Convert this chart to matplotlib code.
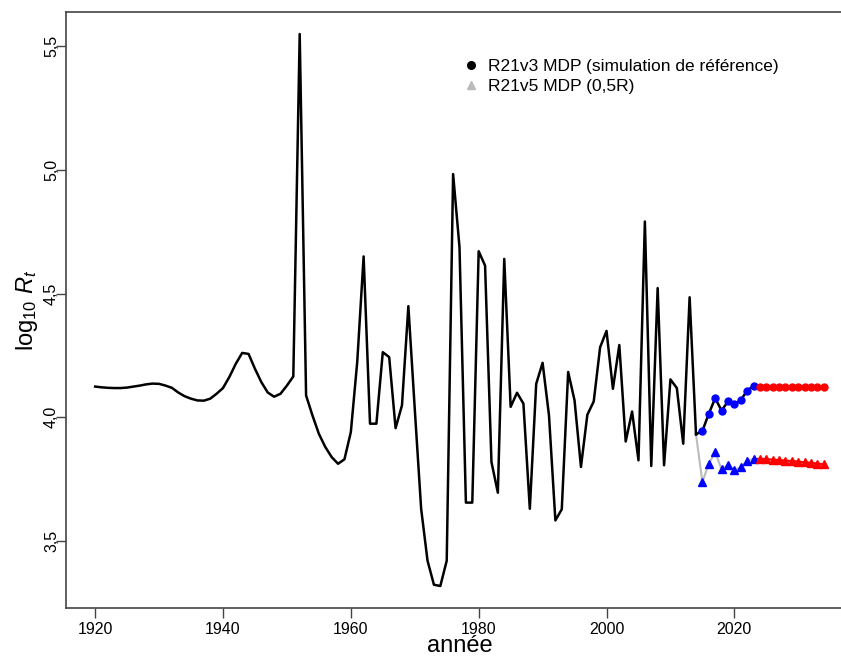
import numpy as np
import matplotlib
matplotlib.use('Agg')
import matplotlib.pyplot as plt

plt.rcParams['font.family'] = ['Liberation Sans', 'DejaVu Sans']
plt.rcParams['mathtext.fontset'] = 'custom'
plt.rcParams['mathtext.rm'] = 'Liberation Sans'
plt.rcParams['mathtext.it'] = 'Liberation Sans:italic'

# historique 1920-2014
annees_hist = np.arange(1920, 2015)
log_r_hist = [
    4.124, 4.121, 4.119, 4.118, 4.118, 4.120, 4.124, 4.128, 4.133, 4.136,
    4.135, 4.128, 4.119, 4.100, 4.085, 4.075, 4.068, 4.067, 4.075, 4.095,
    4.118, 4.163, 4.216, 4.260, 4.256, 4.196, 4.142, 4.100, 4.083, 4.095,
    4.128, 4.165, 5.549, 4.088, 4.007, 3.933, 3.880, 3.839, 3.812, 3.830,
    3.940, 4.223, 4.650, 3.974, 3.974, 4.263, 4.243, 3.956, 4.048, 4.449,
    4.034, 3.630, 3.420, 3.323, 3.318, 3.420, 4.983, 4.687, 3.655, 3.655,
    4.671, 4.613, 3.819, 3.695, 4.640, 4.042, 4.099, 4.055, 3.630, 4.135,
    4.220, 4.007, 3.583, 3.628, 4.183, 4.068, 3.799, 4.010, 4.064, 4.283,
    4.349, 4.115, 4.292, 3.902, 4.023, 3.826, 4.791, 3.803, 4.522, 3.806,
    4.153, 4.118, 3.893, 4.485, 3.931,
]

# projections
annees_bleu = np.arange(2015, 2024)
annees_rouge = np.arange(2024, 2035)
ref_bleu = [3.945, 4.014, 4.077, 4.027, 4.064, 4.052, 4.069, 4.108, 4.126]
ref_rouge = [4.123, 4.123, 4.123, 4.123, 4.123, 4.123, 4.123, 4.123, 4.123, 4.123, 4.123]
demi_bleu = [3.738, 3.812, 3.859, 3.789, 3.808, 3.785, 3.799, 3.824, 3.832]
demi_rouge = [3.832, 3.831, 3.829, 3.827, 3.825, 3.823, 3.821, 3.818, 3.816, 3.813, 3.810]

fig = plt.figure(figsize=(8.41, 6.58), dpi=100)
ax = fig.add_axes([66 / 841, 1 - 608 / 658, (853 - 66) / 841, (608 - 12) / 658])

x0, y0 = annees_hist[-1], log_r_hist[-1]

# 0,5R (gris)
ax.plot([x0] + list(annees_bleu), [y0] + demi_bleu, color='#bbbbbb', lw=1.5, zorder=2)
ax.plot(annees_bleu, demi_bleu, '^', color='blue', ms=5.5, zorder=4)
ax.plot([annees_bleu[-1]] + list(annees_rouge), [demi_bleu[-1]] + demi_rouge,
        '-', color='red', lw=1.5, zorder=3)
ax.plot(annees_rouge, demi_rouge, '^', color='red', ms=5.5, zorder=4)

# historique + référence
ax.plot(annees_hist, log_r_hist, color='black', lw=1.8, zorder=3)
ax.plot([x0] + list(annees_bleu), [y0] + ref_bleu, color='black', lw=1.8, zorder=3)
ax.plot(annees_bleu, ref_bleu, 'o', color='blue', ms=5, zorder=4)
ax.plot([annees_bleu[-1]] + list(annees_rouge), [ref_bleu[-1]] + ref_rouge,
        '-', color='red', lw=1.5, zorder=3)
ax.plot(annees_rouge, ref_rouge, 'o', color='red', ms=5, zorder=4)

ax.set_xlim(1915.44, 2038.56)
ax.set_ylim(3.229, 5.638)

ax.set_xticks([1920, 1940, 1960, 1980, 2000, 2020])
ax.set_yticks([3.5, 4.0, 4.5, 5.0, 5.5])
ax.set_yticklabels(['3,5', '4,0', '4,5', '5,0', '5,5'], rotation=90, va='center')
ax.tick_params(axis='both', direction='out', length=7, width=1, color='#444444',
               labelsize=11.5, pad=3)
ax.tick_params(axis='y', pad=-2)
for s in ax.spines.values():
    s.set_color('#444444')
    s.set_linewidth(1.2)

ax.set_xlabel('année', fontsize=17, labelpad=-1)
ax.set_ylabel(r'log$_{10}$ $R_t$', fontsize=17, labelpad=3)

h1, = ax.plot([], [], 'o', color='black', ms=5.5)
h2, = ax.plot([], [], '^', color='#bbbbbb', ms=6)
fig.legend([h1, h2], ['R21v3 MDP (simulation de référence)', 'R21v5 MDP (0,5R)'],
           loc='upper left', bbox_to_anchor=(455 / 841, 1 - 52 / 658), frameon=False,
           fontsize=12.5, handlelength=1, handletextpad=0.5, labelspacing=0.3,
           borderaxespad=0)

fig.savefig('out.png', dpi=100)
